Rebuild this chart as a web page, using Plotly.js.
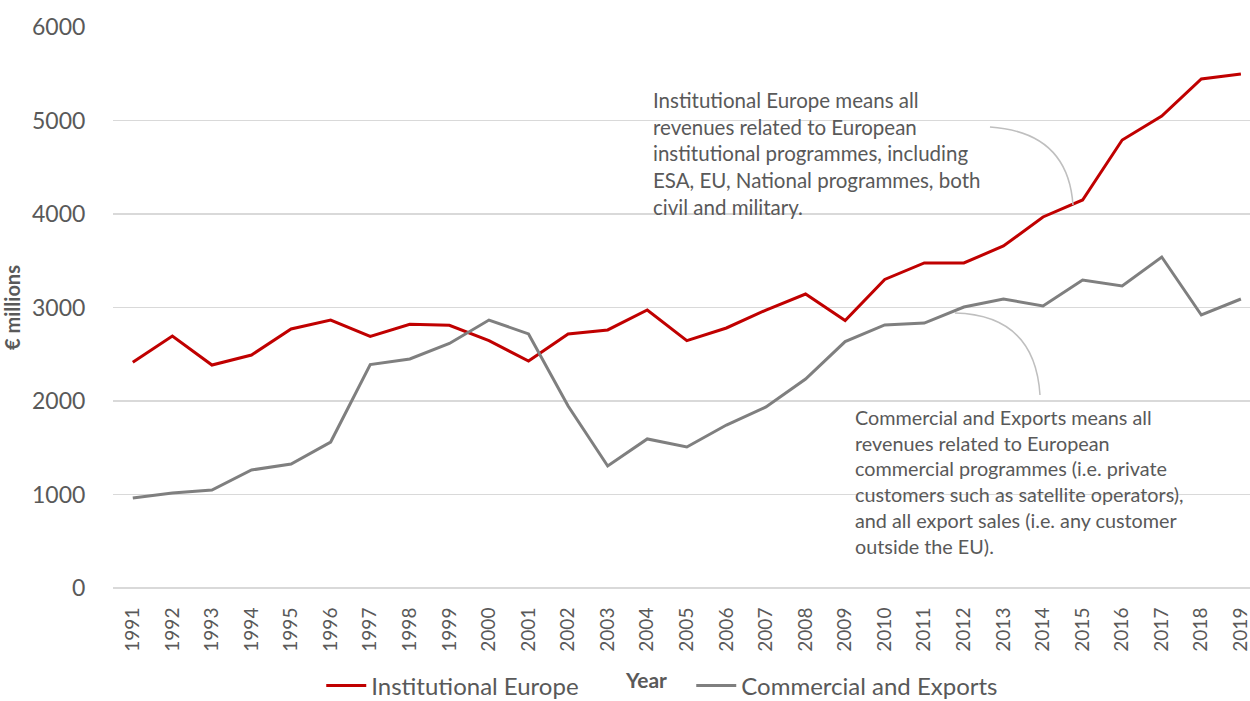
<!DOCTYPE html>
<html>
<head>
<meta charset="utf-8">
<script src="https://cdn.plot.ly/plotly-3.0.1.min.js"></script>
<style>html,body{margin:0;padding:0;background:#fff;}#chart{width:1250px;height:701px;}</style>
</head>
<body>
<div id="chart"></div>
<script>
const years = ["1991","1992","1993","1994","1995","1996","1997","1998","1999","2000","2001","2002","2003","2004","2005","2006","2007","2008","2009","2010","2011","2012","2013","2014","2015","2016","2017","2018","2019"];
const institutionalEurope = [2415,2695,2385,2492,2770,2866,2690,2820,2810,2645,2428,2717,2760,2973,2645,2781,2973,3144,2860,3300,3476,3476,3658,3968,4150,4791,5048,5444,5497];
const commercialExports = [963,1016,1048,1262,1326,1561,2390,2449,2615,2866,2717,1947,1305,1594,1508,1743,1936,2235,2635,2813,2834,3005,3091,3016,3294,3230,3540,2920,3091];
const yTicks = [0,1000,2000,3000,4000,5000,6000];
const noteInstitutional = "Institutional Europe means all<br>revenues related to European<br>institutional programmes, including<br>ESA, EU, National programmes, both<br>civil and military.";
const noteCommercial = "Commercial and Exports means all<br>revenues related to European<br>commercial programmes (i.e. private<br>customers such as satellite operators),<br>and all export sales (i.e. any customer<br>outside the EU).";

const FONT = "Lato, 'Open Sans', sans-serif";
const GREY = "#595959";

const traces = [
  {x: years, y: institutionalEurope, type: "scatter", mode: "lines", name: "Institutional Europe",
   line: {color: "#C00000", width: 3}, legend: "legend"},
  {x: years, y: commercialExports, type: "scatter", mode: "lines", name: "Commercial and Exports",
   line: {color: "#7F7F7F", width: 3}, legend: "legend2"}
];

const layout = {
  width: 1250, height: 701,
  margin: {l: 113, r: 0, t: 27, b: 113, autoexpand: false},
  paper_bgcolor: "#fff", plot_bgcolor: "#fff",
  font: {family: FONT, color: GREY},
  showlegend: true,
  xaxis: {
    type: "category", range: [-0.5, 28.23],
    tickangle: -90, tickfont: {size: 19, color: GREY, family: FONT},
    showgrid: false, zeroline: false, showline: false,
    ticks: "outside", ticklen: 11, tickcolor: "rgba(0,0,0,0)",
    automargin: false
  },
  yaxis: {
    range: [0, 6000], tickvals: yTicks, ticktext: yTicks.map(String),
    tickfont: {size: 23, color: GREY, family: FONT},
    gridcolor: "#D9D9D9", gridwidth: 1.5,
    zeroline: true, zerolinecolor: "#D9D9D9", zerolinewidth: 1.5,
    showline: false,
    ticks: "outside", ticklen: 22, tickcolor: "rgba(0,0,0,0)",
    title: {text: "€ millions", font: {size: 20, color: GREY, family: FONT, weight: "bold"}, standoff: 6},
    automargin: false
  },
  legend: {orientation: "h", xref: "container", yref: "container", x: 0.257, y: 1 - 686/701,
           xanchor: "left", yanchor: "middle", itemwidth: 40,
           font: {size: 24, color: GREY, family: FONT}, bgcolor: "rgba(0,0,0,0)"},
  legend2: {orientation: "h", xref: "container", yref: "container", x: 0.553, y: 1 - 686/701,
           xanchor: "left", yanchor: "middle", itemwidth: 40,
           font: {size: 24, color: GREY, family: FONT}, bgcolor: "rgba(0,0,0,0)"},
  annotations: [
    {xref: "paper", yref: "paper", x: (646-113)/1137, y: (588-679)/561, text: "<b>Year</b>", showarrow: false,
     font: {size: 21, color: GREY, family: FONT}, xanchor: "center", yanchor: "middle"},
    {xref: "paper", yref: "paper", x: (651-113)/1137, y: (588-86)/561, text: noteInstitutional,
     showarrow: false, align: "left", xanchor: "left", yanchor: "top",
     font: {size: 20.5, color: GREY, family: FONT}},
    {xref: "paper", yref: "paper", x: (853-113)/1137, y: (588-403)/561, text: noteCommercial,
     showarrow: false, align: "left", xanchor: "left", yanchor: "top",
     font: {size: 19.8, color: GREY, family: FONT}}
  ],
  shapes: [
    {type: "path", xref: "paper", yref: "paper",
     path: "M 0.7713,0.8217 Q 0.8399,0.8128 0.8443,0.6827",
     line: {color: "#BFBFBF", width: 1.5}},
    {type: "path", xref: "paper", yref: "paper",
     path: "M 0.7405,0.4902 Q 0.8109,0.4866 0.8153,0.3440",
     line: {color: "#BFBFBF", width: 1.5}}
  ]
};

Plotly.newPlot("chart", traces, layout, {displayModeBar: false, staticPlot: true});
</script>
</body>
</html>
